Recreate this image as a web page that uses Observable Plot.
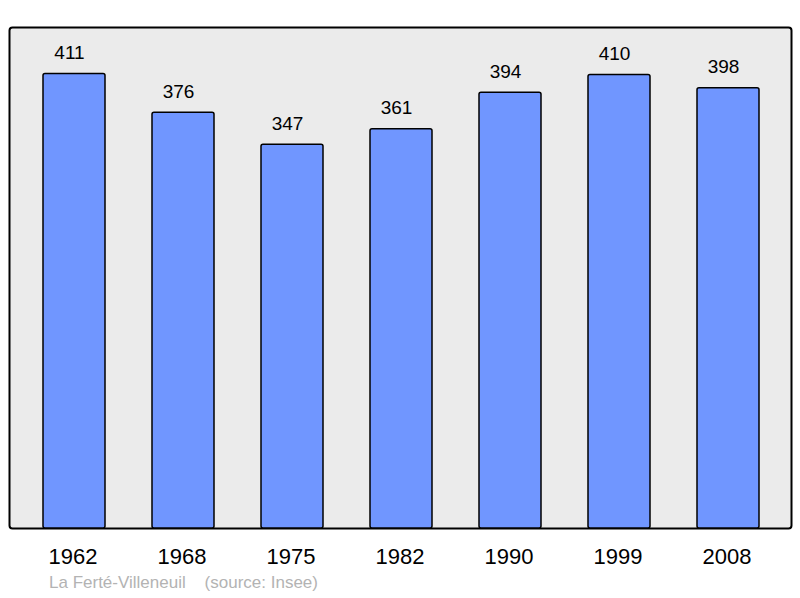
<!DOCTYPE html>
<html><head><meta charset="utf-8">
<script src="https://cdn.jsdelivr.net/npm/d3@7"></script>
<script src="https://cdn.jsdelivr.net/npm/@observablehq/plot@0.6"></script>
<style>
body{margin:0;background:#fff;font-family:"Liberation Sans",Arial,sans-serif;}
#wrap{position:relative;width:800px;height:598px;}
#cap{position:absolute;left:49px;top:573px;font-size:17px;color:#b3b3b3;white-space:pre;}
</style></head>
<body><div id="wrap"><div id="cap">La Ferté-Villeneuil    (source: Insee)</div></div>
<script>
const years = ["1962","1968","1975","1982","1990","1999","2008"];
const population = [411,376,347,361,394,410,398];
const data = years.map((y,i)=>({year:y,pop:population[i]}));
const chart = Plot.plot({
  width:800, height:598,
  marginTop:27, marginBottom:70, marginLeft:9, marginRight:9,
  style:{fontFamily:"Liberation Sans, Arial, sans-serif", background:"transparent"},
  x:{type:"band", domain:years, range:[42,761], paddingInner:0.43, paddingOuter:0},
  y:{domain:[0,453], axis:null},
  marks:[
    Plot.frame({fill:"#ebebeb", stroke:"#000", strokeWidth:2, rx:3}),
    Plot.barY(data,{x:"year", y:"pop", fill:"#7096ff", stroke:"#000", strokeWidth:1.5, rx:2}),
    Plot.text(data,{x:"year", y:"pop", text:d=>String(d.pop), dy:-21, dx:-5, fontSize:19, fill:"#000"}),
    Plot.axisX({tickSize:0, tickPadding:20, fontSize:22, dx:-1.5, label:null, color:"#000"})
  ]
});
document.getElementById("wrap").prepend(chart);
chart.style.position="absolute"; chart.style.left="0"; chart.style.top="0";
</script>
</body></html>
